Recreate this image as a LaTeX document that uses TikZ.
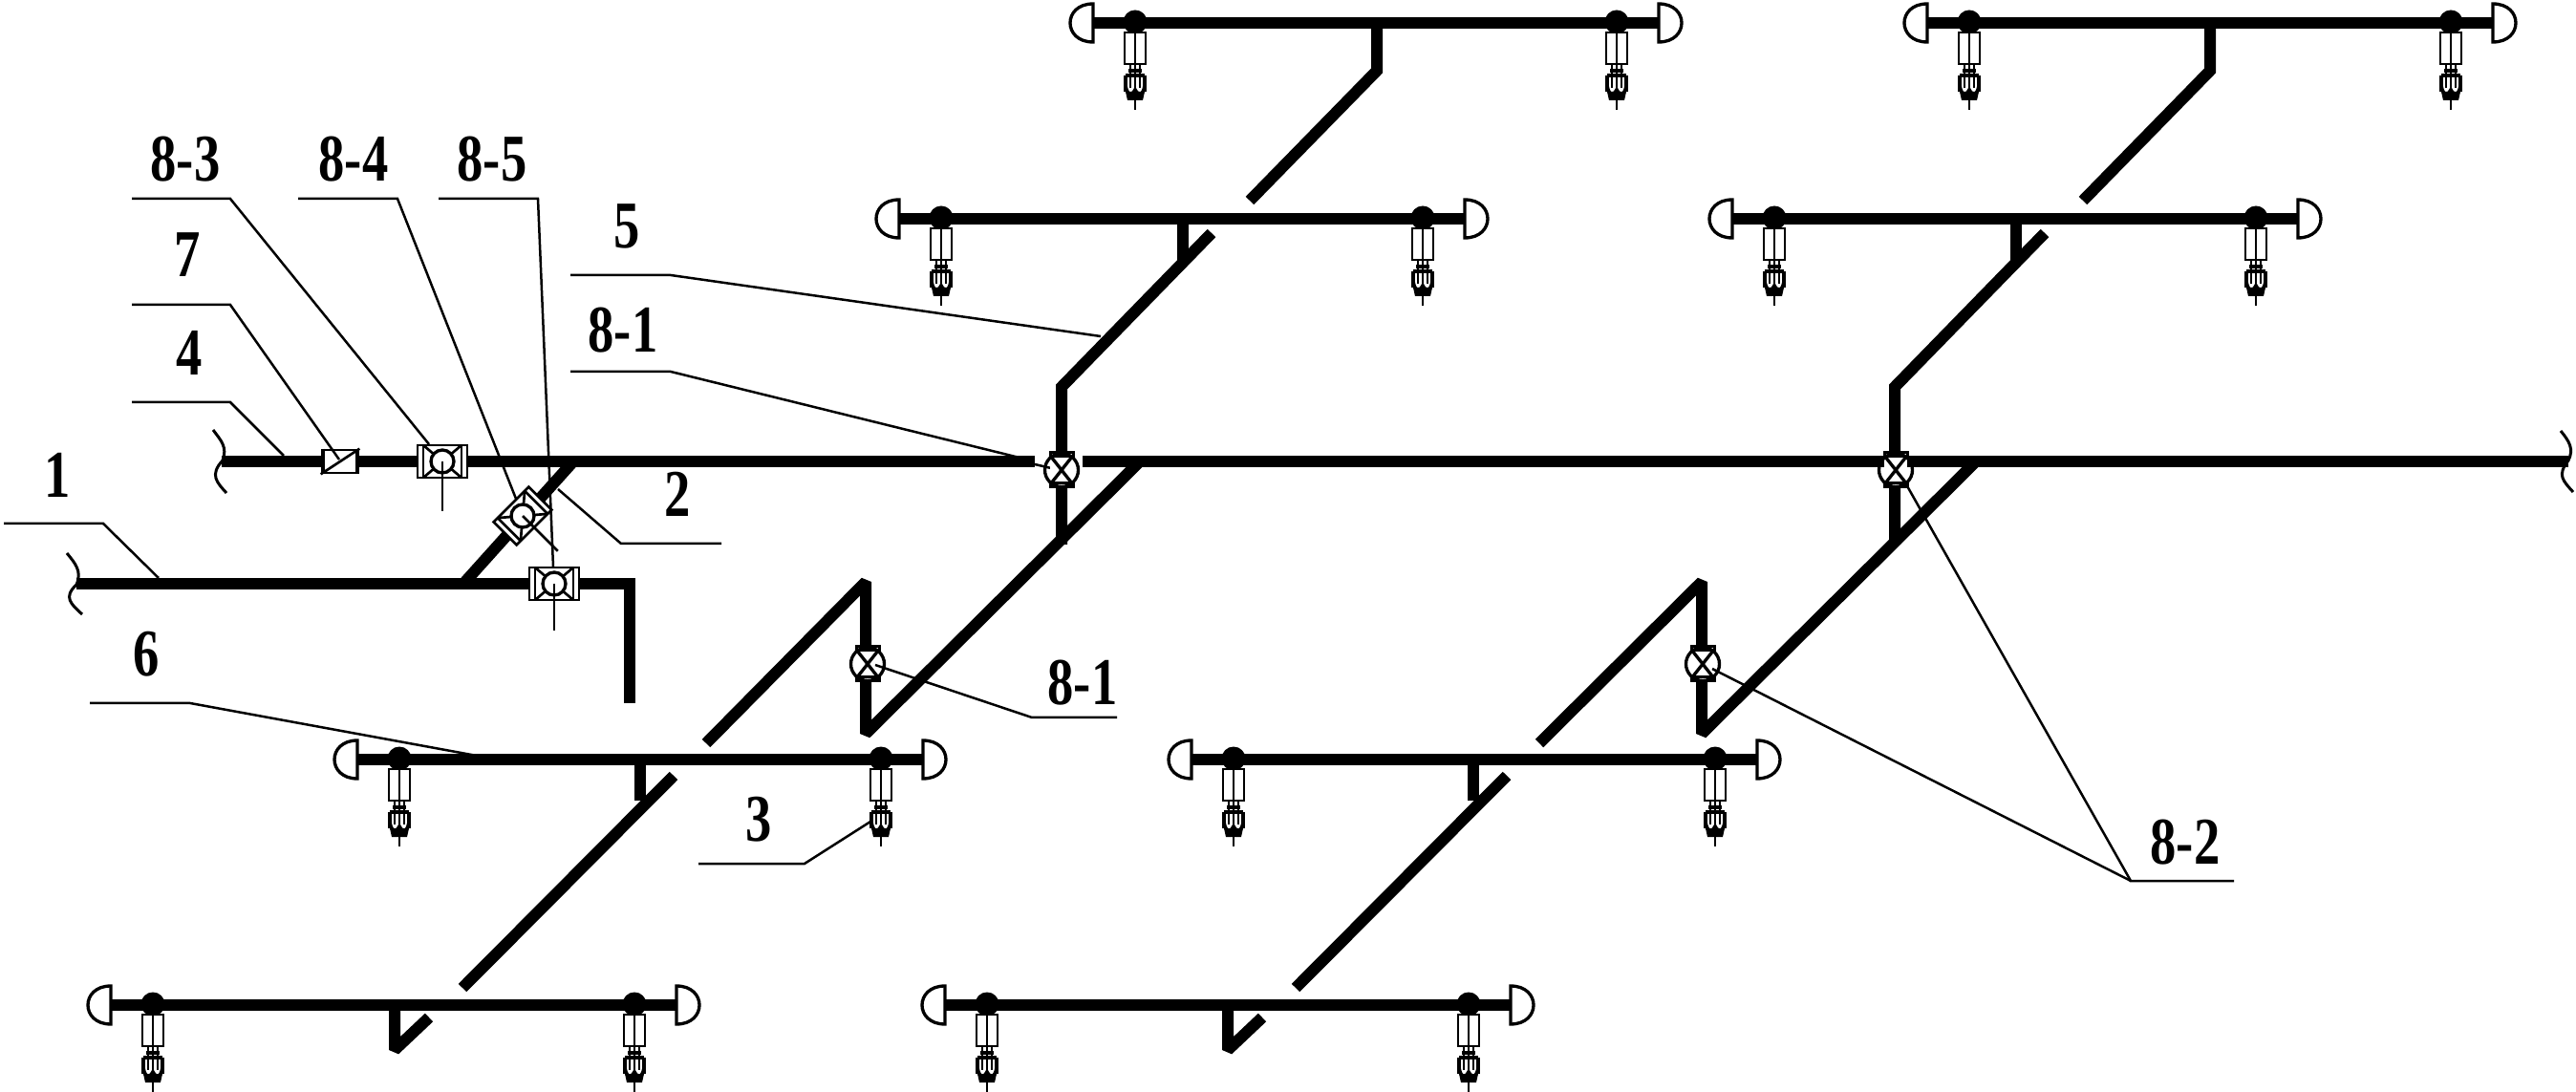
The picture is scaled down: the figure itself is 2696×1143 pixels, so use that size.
\documentclass[tikz,border=0pt]{standalone}
\usepackage{fontspec}
\setmainfont{Liberation Serif}
\tikzset{
  x=0.3pt,y=-0.3pt,
  pipe/.style={line width=3.6pt,line join=miter,line cap=butt},
  zpipe/.style={pipe,line join=bevel},
  thin line/.style={line width=0.8pt},
  leader/.style={line width=0.75pt},
  fine/.style={line width=0.6pt},
  lbl/.style={inner sep=0pt,font=\bfseries\fontsize{21}{21}\selectfont}
}
\newcommand{\tag}[3]{\node[lbl] (#1) at (#2) {\scalebox{0.78}[1]{#3}};}
% sprinkler head hanging from ball at (#1,#2), #2 = bar level
\newcommand{\hd}[2]{%
 \begin{scope}[shift={(#1,#2)}]
  \fill (0,-1) circle[radius=12.5];
  \draw[thin line,fill=white] (-11,10) rectangle (11,43);
  \draw[thin line] (0,10) -- (0,43);
  \draw[fine] (-5,43) -- (-5,55) (5,43) -- (5,55) (0,43) -- (0,55);
  \draw[line width=1pt] (-7,50) -- (7,50);
  \draw[line width=1pt] (-10,55) -- (10,55) (-10,55) -- (-10,72) (10,55) -- (10,72);
  \draw[fine] (-5,55) -- (-5,68) (5,55) -- (5,68) (0,55) -- (0,70);
  \draw[line width=1.1pt] (-10,66) .. controls (-8,77) and (-3,76) .. (0,70) .. controls (3,76) and (8,77) .. (10,66);
  \fill (-10,72) -- (10,72) -- (8,81) -- (-8,81) -- cycle;
  \draw[thin line] (0,81) -- (0,91);
 \end{scope}}
% a branch: left ball, right ball, level
\newcommand{\br}[3]{%
 \draw[pipe] (#1-44,#3) -- (#2+44,#3);
 \draw[line width=1pt,line cap=round] (#1-44,#3-20) .. controls (#1-76,#3-20) and (#1-76,#3+20) .. (#1-44,#3+20) -- cycle;
 \draw[line width=1pt,line cap=round] (#2+44,#3-20) .. controls (#2+76,#3-20) and (#2+76,#3+20) .. (#2+44,#3+20) -- cycle;
 \hd{#1}{#3}\hd{#2}{#3}}
% round gate valve on vertical pipe
\newcommand{\xvalve}[2]{%
 \begin{scope}[shift={(#1,#2)}]
  \fill[white] (-12,-18) rectangle (12,18);
  \draw[line width=1pt] (0,0) circle[radius=17.5];
  \draw[line width=0.9pt] (-12,-18) rectangle (12,-14);
  \draw[line width=0.9pt] (-12,14) rectangle (12,18);
  \draw[line width=1pt] (-11,-14) -- (11,14) (11,-14) -- (-11,14);
 \end{scope}}
% box valve with gauge circle and stem; #3 rotation, #4 stem length
\newcommand{\cvalve}[4]{%
 \begin{scope}[shift={(#1,#2)},rotate=#3]
  \fill[white] (-26,-17) rectangle (26,17);
  \draw[thin line] (-26,-17) rectangle (26,17);
  \draw[thin line] (-20,-17) -- (-20,17) (20,-17) -- (20,17);
  \draw[thin line] (-20,-17) -- (20,17) (20,-17) -- (-20,17);
  \draw[line width=1pt,fill=white] (0,0) circle[radius=12];
  \draw[thin line] (0,0) -- (0,#4);
 \end{scope}}
\begin{document}
\begin{tikzpicture}
\useasboundingbox (0,0) rectangle (2696,1143);
\fill[white] (0,0) rectangle (2696,1143);

% named junctions
\coordinate (mainL) at (232,483);
\coordinate (mainR) at (2688,483);
\coordinate (supL) at (80,611);
\coordinate (supC) at (659,611);
\coordinate (supE) at (659,736);

% main, supply
\draw[pipe] (mainL) -- (1083,483);
\draw[pipe] (1133,483) -- (mainR);
\draw[pipe] (supL) -- (supC) -- (supE);
\draw[pipe] (600,483) -- (485,611);

% pipe groups, repeated with a shift
\foreach \dx/\dz in {0/0,872/875}{
 \begin{scope}[shift={(\dx,0)}]
  \draw[pipe] (1111,570) -- (1111,405) -- (1268,244);
  \draw[pipe] (1238,229) -- (1238,277);
  \draw[pipe] (1441,24) -- (1441,74) -- (1308,210);
  \draw[pipe] (670,795) -- (670,838);
  \draw[pipe] (705,812) -- (484,1034);
 \end{scope}
 \draw[zpipe] (1193+\dz,483) -- (906+\dz,768) -- (906+\dz,609) -- (739+\dx,778);
 \draw[zpipe] (413+\dx,1052) -- (413+\dx,1099) -- (449+\dx,1065);
}
% short link to upper valve
\draw[leader] (1083,486) -- (1100,490);

% branches
\br{1188}{1692}{24}
\br{2061}{2565}{24}
\br{985}{1489}{229}
\br{1857}{2361}{229}
\br{418}{922}{795}
\br{1291}{1795}{795}
\br{160}{664}{1052}
\br{1033}{1537}{1052}

% valves
\xvalve{1111}{492}
\xvalve{1984}{492}
\xvalve{908}{695}
\xvalve{1782}{695}
\cvalve{463}{483}{0}{52}
\cvalve{580}{611}{0}{49}
\cvalve{547}{540}{45}{52}
\node[draw,fill=white,thin line,minimum width=11.4pt,minimum height=7.2pt,inner sep=0pt] (check) at (356,483) {};
\draw[thin line] (check.south west) -- (check.north east);
\draw[thin line] (check.north west)++(3,0) -- ++(0,24);
\draw[thin line] (check.north east)++(-3,0) -- ++(0,24);

% pipe end marks
\draw[line width=0.9pt] (223,450) .. controls (232,462) and (238,468) .. (233,482) .. controls (219,497) and (227,505) .. (237,516);
\draw[line width=0.9pt] (70,579) .. controls (79,590) and (86,598) .. (80,612) .. controls (66,625) and (74,632) .. (86,643);
\draw[line width=0.9pt] (2680,451) .. controls (2689,462) and (2694,470) .. (2688,482) .. controls (2676,497) and (2682,503) .. (2693,515);

% labels
\tag{t83}{194,167}{8-3}
\tag{t84}{370,167}{8-4}
\tag{t85}{515,167}{8-5}
\tag{t7}{196,267}{7}
\tag{t5}{656,237}{5}
\tag{t81a}{652,346}{8-1}
\tag{t4}{198,369}{4}
\tag{t1}{60,497}{1}
\tag{t2}{709,517}{2}
\tag{t6}{153,685}{6}
\tag{t81b}{1133,715}{8-1}
\tag{t3}{794,858}{3}
\tag{t82}{2287,882}{8-2}

% leaders
\draw[leader] (138,208) -- (241,208) -- (449,465);
\draw[leader] (312,208) -- (416,208) -- (540,522);
\draw[leader] (459,208) -- (563,208) -- (579,593);
\draw[leader] (138,319) -- (241,319) -- (355,481);
\draw[leader] (138,421) -- (241,421) -- (297,477);
\draw[leader] (4,548) -- (108,548) -- (166,605);
\draw[leader] (597,288) -- (702,288) -- (1152,352);
\draw[leader] (597,389) -- (702,389) -- (1075,481);
\draw[leader] (584,512) -- (650,569) -- (755,569);
\draw[leader] (94,736) -- (199,736) -- (499,791);
\draw[leader] (1169,751) -- (1080,751) -- (916,696);
\draw[leader] (731,904) -- (842,904) -- (911,860);
\draw[leader] (1995,507) -- (2230,922) -- (2338,922);
\draw[leader] (1792,700) -- (2230,922);
\end{tikzpicture}
\end{document}
